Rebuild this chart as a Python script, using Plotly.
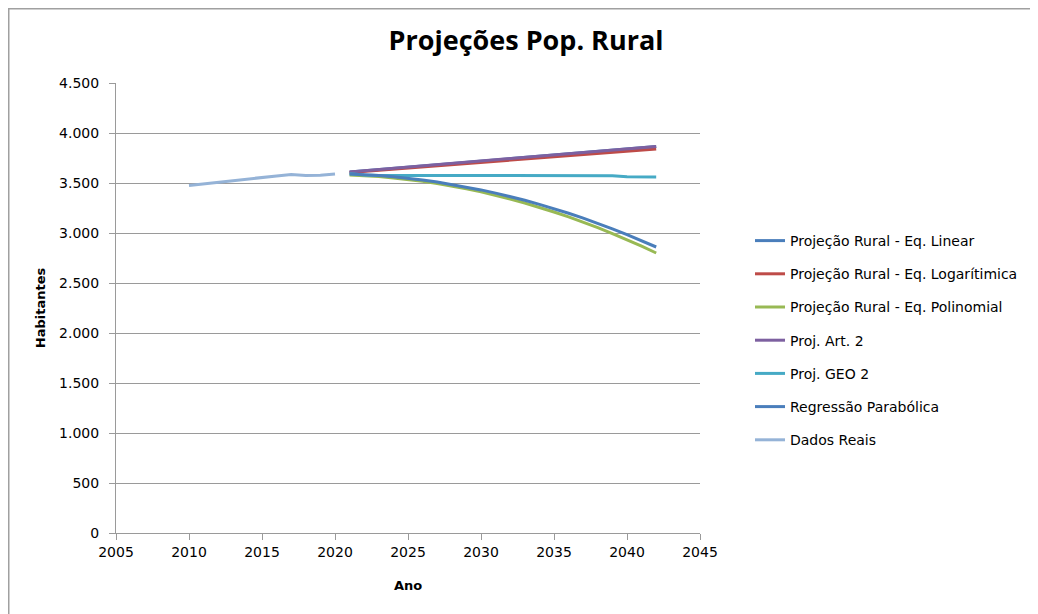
"""
Projeções da população rural: gráfico de linhas no estilo Excel.
"""

import plotly.graph_objects as go

# ── Dados ─────────────────────────────────────────────────────────────────────
anos_reais = [2010, 2011, 2012, 2013, 2014, 2015, 2016, 2017, 2018, 2019, 2020]
dados_reais = [3475, 3492, 3510, 3524, 3540, 3556, 3571, 3586, 3576, 3577, 3590]

anos_proj = list(range(2021, 2043))

proj_linear = [3610, 3622, 3634, 3646, 3658, 3671, 3683, 3695, 3707, 3719, 3731,
               3743, 3755, 3767, 3779, 3792, 3804, 3816, 3828, 3840, 3852, 3864]
proj_log = [3605, 3616, 3627, 3639, 3650, 3661, 3672, 3683, 3695, 3706, 3717,
            3728, 3739, 3751, 3762, 3773, 3784, 3795, 3807, 3818, 3829, 3840]
proj_poli = [3580, 3573, 3564, 3551, 3536, 3517, 3495, 3470, 3442, 3411, 3377,
             3340, 3300, 3257, 3210, 3161, 3108, 3053, 2994, 2933, 2868, 2800]
proj_art2 = [3611, 3623, 3635, 3647, 3659, 3672, 3684, 3696, 3708, 3720, 3732,
             3744, 3756, 3768, 3780, 3793, 3805, 3817, 3829, 3841, 3853, 3865]
proj_geo2 = [3593, 3580, 3576, 3575, 3575, 3575, 3575, 3575, 3575, 3575, 3575,
             3575, 3575, 3575, 3575, 3575, 3575, 3575, 3573, 3562, 3560, 3560]
reg_parab = [3590, 3584, 3575, 3563, 3548, 3530, 3510, 3486, 3460, 3431, 3399,
             3364, 3327, 3286, 3243, 3197, 3148, 3096, 3041, 2984, 2923, 2860]

# ── Estilo ────────────────────────────────────────────────────────────────────
AZUL     = "#4A7EBB"
VERMELHO = "#BE4B48"
VERDE    = "#98B954"
ROXO     = "#7D60A0"
CIANO    = "#46AAC5"
AZUL2    = "#4A7EBB"
AZUL_CL  = "#95B3D7"
CINZA    = "#9A9A9A"
TEXTO    = "#000000"
FONTE    = "DejaVu Sans, Verdana, sans-serif"

# a página tem 8px de margem no body: a figura é 8px menor e as margens
# foram deslocadas para que a área do gráfico caia no mesmo lugar
W, H = 1030, 606
PLOT_L, PLOT_R, PLOT_T, PLOT_B = 108, 692, 75, 525

series = [
    ("Projeção Rural - Eq. Linear", anos_proj, proj_linear, AZUL),
    ("Projeção Rural - Eq. Logarítimica", anos_proj, proj_log, VERMELHO),
    ("Projeção Rural - Eq. Polinomial", anos_proj, proj_poli, VERDE),
    ("Proj. Art. 2", anos_proj, proj_art2, ROXO),
    ("Proj. GEO 2", anos_proj, proj_geo2, CIANO),
    ("Regressão Parabólica", anos_proj, reg_parab, AZUL2),
    ("Dados Reais", anos_reais, dados_reais, AZUL_CL),
]

fig = go.Figure()
for i, (nome, x, y, cor) in enumerate(series):
    fig.add_trace(go.Scatter(
        x=x, y=y, name=nome, mode="lines",
        line=dict(color=cor, width=3),
        legendgroup=f"g{i}",
    ))

eixo = dict(
    showline=True, linecolor=CINZA, linewidth=1,
    ticks="outside", tickcolor=CINZA, ticklen=6,
    tickfont=dict(family=FONTE, size=14, color=TEXTO),
    zeroline=False,
)

pw = PLOT_R - PLOT_L
ph = PLOT_B - PLOT_T

fig.update_layout(
    width=W, height=H,
    paper_bgcolor="white", plot_bgcolor="white",
    separators=",.",
    margin=dict(l=PLOT_L, r=W - PLOT_R, t=PLOT_T, b=H - PLOT_B),
    font=dict(family=FONTE, color=TEXTO, size=14),
    title=dict(
        text="<b>Projeções Pop. Rural</b>",
        font=dict(family="Open Sans, sans-serif", size=27, color=TEXTO),
        x=518 / W, xref="container", xanchor="center",
        y=1 - 33 / H, yref="container", yanchor="middle",
    ),
    xaxis=dict(
        **eixo, range=[2005, 2045], dtick=5, tick0=2005, tickformat="d",
        showgrid=False,
        title=dict(text="<b>Ano</b>", font=dict(family=FONTE, size=13), standoff=22),
    ),
    yaxis=dict(
        **eixo, range=[0, 4500], dtick=500, tickformat=",d",
        showgrid=True, gridcolor=CINZA, gridwidth=1,
        ticklabelstandoff=7,
        title=dict(text="<b>Habitantes</b>", font=dict(family=FONTE, size=13), standoff=10),
    ),
    legend=dict(
        x=(742 - PLOT_L) / pw, xanchor="left",
        y=(PLOT_B - 217) / ph, yanchor="top",
        traceorder="grouped", tracegroupgap=12,
        font=dict(family=FONTE, size=14, color=TEXTO),
        bgcolor="rgba(0,0,0,0)",
    ),
    showlegend=True,
    shapes=[dict(
        type="rect", xref="paper", yref="paper",
        x0=(0.75 - PLOT_L) / pw, x1=(W + 20 - PLOT_L) / pw,
        y0=(PLOT_B - H - 20) / ph, y1=(PLOT_B - 0.75) / ph,
        line=dict(color="#A0A0A0", width=1.5), layer="below",
    )],
)

fig.write_html("out.html")
